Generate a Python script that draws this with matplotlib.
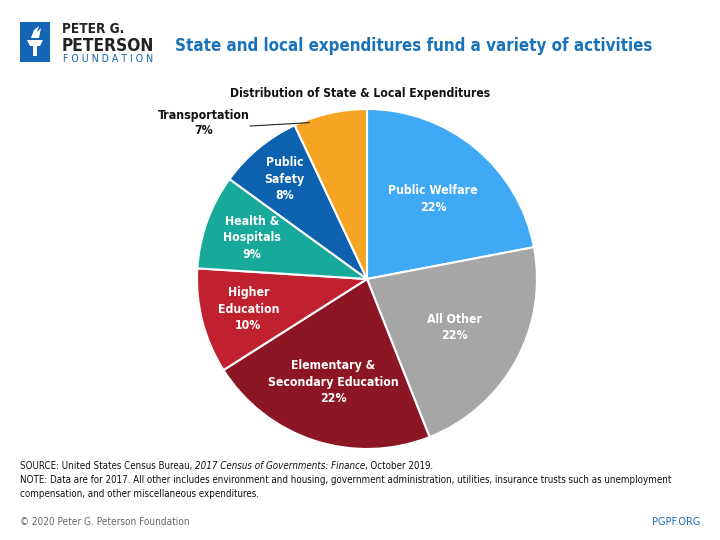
import matplotlib
matplotlib.use("Agg")
import matplotlib.pyplot as plt
import numpy as np
from matplotlib.patches import Rectangle, Polygon
from matplotlib import font_manager as fm

# pick a condensed face if available
fam = 'Liberation Sans'
stretch = 'normal'
try:
    f = fm.findfont(fm.FontProperties(family='DejaVu Sans', stretch='condensed'), fallback_to_default=False)
    if 'Condensed' in f:
        fam = 'DejaVu Sans'
        stretch = 'condensed'
except Exception:
    pass
plt.rcParams['font.family'] = [fam, 'DejaVu Sans']
plt.rcParams['font.stretch'] = stretch

categories = ["Public Welfare", "All Other", "Elementary &\nSecondary Education",
              "Higher\nEducation", "Health &\nHospitals", "Public\nSafety", "Transportation"]
values = [22, 22, 22, 10, 9, 8, 7]
colors = ["#3FA9F5", "#A6A6A6", "#8C1623", "#C1202F", "#17A99A", "#0C62AF", "#F6A523"]
label_r = [0.61, 0.59, 0.64, 0.72, 0.72, 0.76, None]

fig = plt.figure(figsize=(7.2, 5.4), dpi=100)
fig.patch.set_facecolor("white")
fig.canvas.draw()
R = fig.canvas.get_renderer()


def fit(t, target_px):
    w = t.get_window_extent(R).width
    t.set_fontsize(t.get_fontsize() * target_px / w)
    return t


def px(x, y):
    return x / 720, 1 - y / 540


ax = fig.add_axes([197/720, 1-449/540, 340/720, 340/540])
wedges, _ = ax.pie(values, colors=colors, startangle=90, counterclock=False,
                   wedgeprops=dict(edgecolor="white", linewidth=1.5), radius=1.0)
ax.set_xlim(-1, 1); ax.set_ylim(-1, 1)
ax.set_aspect('equal')
ax.axis('off')

# label font size: "Public Welfare" ~ 87 px wide
probe = fig.text(0, 0, "Public Welfare", fontsize=10, fontweight="bold")
lab_fs = 10 * 89 / probe.get_window_extent(R).width
probe.remove()

for w, cat, v, r in zip(wedges, categories, values, label_r):
    ang = np.deg2rad((w.theta1 + w.theta2) / 2)
    if r is None:
        fig.text(*px(204, 123), f"{cat}\n{v}%", ha="center", va="center", fontsize=lab_fs,
                 fontweight="bold", color="#111111", linespacing=1.3)
        a_end = np.deg2rad(max(w.theta1, w.theta2) - 5)
        ax.annotate("", xy=(0.98 * np.cos(a_end), 0.98 * np.sin(a_end)),
                    xytext=px(250, 126), textcoords='figure fraction',
                    arrowprops=dict(arrowstyle="-", color="#222222", lw=0.8,
                                    shrinkA=0, shrinkB=0), annotation_clip=False)
    else:
        ax.text(r * np.cos(ang), r * np.sin(ang), f"{cat}\n{v}%", ha="center", va="center",
                color="white", fontsize=lab_fs, fontweight="bold", linespacing=1.35)

# Header: logo
fig.patches.append(Rectangle(px(20, 62), 30/720, 40/540, transform=fig.transFigure,
                             facecolor="#1565B5", edgecolor="none"))
torch = [(27, 40), (43, 40), (40, 46), (37, 46), (37, 56), (33, 56), (33, 46), (30, 46)]
fig.patches.append(Polygon([px(x, y) for x, y in torch], closed=True,
                           transform=fig.transFigure, facecolor="white", edgecolor="none"))
flame = [(31, 38), (34, 30), (39, 26), (37, 32), (41, 28), (39, 38)]
fig.patches.append(Polygon([px(x, y) for x, y in flame], closed=True,
                           transform=fig.transFigure, facecolor="white", edgecolor="none"))
fit(fig.text(*px(62, 29), "PETER G.", fontsize=10, fontweight="bold", color="#222222", va="center"), 62)
fit(fig.text(*px(62, 46), "PETERSON", fontsize=14, fontweight="bold", color="#222222", va="center"), 93)
fit(fig.text(*px(63, 59), "F O U N D A T I O N", fontsize=6.5, color="#1565B5", va="center"), 91)

fit(fig.text(*px(175, 46), "State and local expenditures fund a variety of activities",
             fontsize=14, fontweight="bold", color="#1A72BA", va="center"), 480)

fit(fig.text(*px(360, 93), "Distribution of State & Local Expenditures",
             fontsize=10, fontweight="bold", color="#111111", ha="center", va="center"), 258)

# Footer
ffs = 7.0
t1 = fig.text(*px(20, 466), "SOURCE: United States Census Bureau, ", fontsize=ffs, color="#111111", va="center")
fig.canvas.draw()
bb = t1.get_window_extent(R)
t2 = fig.text(bb.x1/720, 1-466/540, "2017 Census of Governments: Finance", fontsize=ffs,
              style="italic", color="#111111", va="center")
bb2 = t2.get_window_extent(R)
fig.text(bb2.x1/720, 1-466/540, ", October 2019.", fontsize=ffs, color="#111111", va="center")
fig.text(*px(20, 480), "NOTE: Data are for 2017. All other includes environment and housing, government administration, utilities, insurance trusts such as unemployment",
         fontsize=ffs, color="#111111", va="center")
fig.text(*px(20, 494), "compensation, and other miscellaneous expenditures.",
         fontsize=ffs, color="#111111", va="center")
fig.text(*px(20, 522), "© 2020 Peter G. Peterson Foundation", fontsize=7.2, color="#666666", va="center")
fig.text(*px(700, 522), "PGPF.ORG", fontsize=7.8, color="#1A72BA", va="center", ha="right")

fig.savefig("out.png", dpi=100, facecolor="white")
